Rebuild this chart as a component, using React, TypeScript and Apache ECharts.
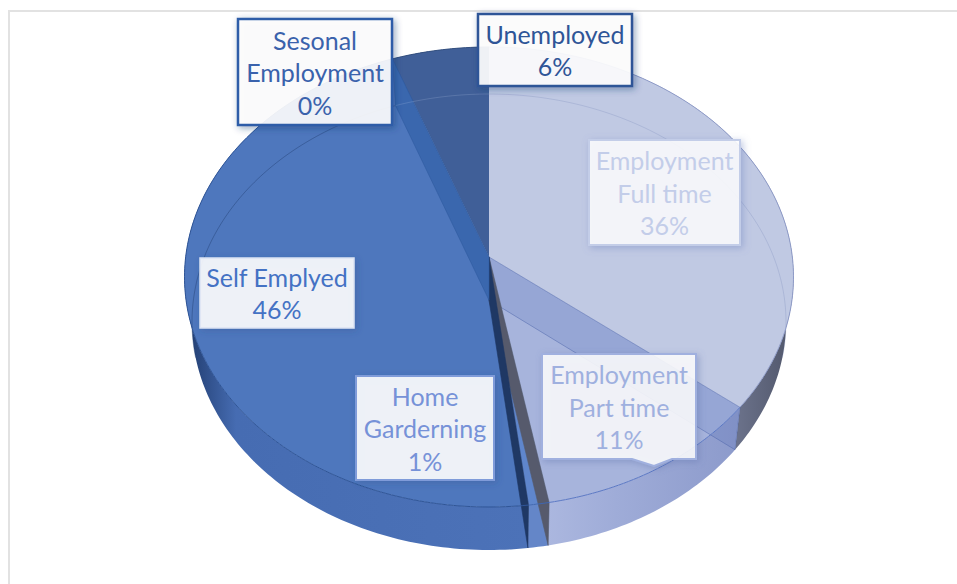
import React, { useEffect, useRef } from "react";
import * as echarts from "echarts";

// ---- data, clockwise from 12 o'clock ----
const categories = ["Employment\nFull time", "Employment\nPart time", "Home\nGarderning", "Self Emplyed", "Sesonal\nEmployment", "Unemployed"];
const shares = [35.7, 11.4, 1.0, 46.1, 0.2, 5.6];

// ---- styling ----
const faceColors = ["#C0C9E3", "#A7B4DC", "#5F86CC", "#4E77BD", "#3F6CB2", "#405F98"];
const rimColors = ["#8E9BC8", "#5B78C4", "#3F66B0", "#2F5597", "#2F5597", "#34507F"];
const floorLine = ["rgba(100,120,175,0.22)", "rgba(100,120,175,0.2)", "rgba(30,60,110,0.3)", "rgba(30,60,110,0.42)", "rgba(30,60,110,0.4)", "rgba(190,205,235,0.2)"];
const outerWall: { stop: number; colors: [string, string, string] }[] = [
  { stop: 0.6, colors: ["#A0A9CC", "#8A92B0", "#50566A"] },
  { stop: 0.35, colors: ["#ABB7DF", "#9FACD8", "#8C9ACB"] },
  { stop: 0.5, colors: ["#6486C8", "#6486C8", "#6486C8"] },
  { stop: 0.15, colors: ["#1F3A6C", "#466CB2", "#4C72B8"] },
  { stop: 0.5, colors: ["#2F5597", "#2F5597", "#2F5597"] },
  { stop: 0.5, colors: ["#2F5597", "#2F5597", "#2F5597"] },
];
const sideWalls: ({ fill: string; stroke: string } | null)[] = [
  { fill: "rgba(72,98,175,0.17)", stroke: "rgba(70,95,165,0.75)" },
  { fill: "#565A6C", stroke: "#565A6C" },
  { fill: "#1F3864", stroke: "#1F3864" },
  null,
  { fill: "#3A67AE", stroke: "#2F5A9F" },
  null,
];
const labelBoxes = [
  { x: 589, y: 140, w: 151, h: 105, fill: "rgba(255,255,255,0.84)", border: "#C3CDE8", text: "#C3CDE9", lw: 2, shadow: "rgba(110,130,190,0.5)" },
  { x: 542, y: 354, w: 154, h: 105, fill: "rgba(255,255,255,0.84)", border: "#A0B0DF", text: "#9FB0DF", lw: 2, shadow: "rgba(90,110,170,0.45)", tail: [632, 654, 672] },
  { x: 356, y: 376, w: 138, h: 104, fill: "rgba(255,255,255,0.89)", border: "#7F9BD9", text: "#7692D8", lw: 2, shadow: "rgba(40,70,130,0.3)" },
  { x: 200, y: 258, w: 154, h: 70, fill: "rgba(255,255,255,0.89)", border: "#DCE4F3", text: "#4472C4", lw: 1.5, shadow: "rgba(40,70,130,0.3)" },
  { x: 238, y: 19, w: 154, h: 106, fill: "rgba(255,255,255,0.89)", border: "#2F5DA8", text: "#3A62AC", lw: 2.5, shadow: "rgba(30,60,110,0.45)" },
  { x: 478, y: 14, w: 154, h: 72, fill: "rgba(255,255,255,0.9)", border: "#2F5597", text: "#2F5597", lw: 2.5, shadow: "rgba(30,60,110,0.45)" },
];

const topFace = { cx: 489, cy: 277, rx: 304.5, ry: 230, k: -0.087 };
const floorFace = { cx: 489, cy: 322, rx: 297, ry: 228, k: -0.096 };
type Face = typeof topFace;

const total = shares.reduce((a, b) => a + b, 0);
const startAt = (i: number) => shares.slice(0, i).reduce((a, b) => a + b, 0) / total;

function project(f: Face, fraction: number): number[] {
  const t = fraction * 2 * Math.PI;
  const u = Math.sin(t);
  const v = -Math.cos(t);
  const d = 1 + f.k * v;
  return [f.cx + (f.rx * u * Math.sqrt(1 - f.k * f.k)) / d, f.cy + (f.ry * (v + f.k)) / d];
}
function centre(f: Face): number[] {
  return [f.cx, f.cy + f.ry * f.k];
}
function arc(f: Face, a: number, b: number): number[][] {
  const n = Math.max(1, Math.ceil((b - a) * 360));
  const pts: number[][] = [];
  for (let j = 0; j <= n; j++) pts.push(project(f, a + ((b - a) * j) / n));
  return pts;
}
const seriesData = categories.map((name, i) => ({ name, value: [i, shares[i]] }));

const outerWallsItem = (_: any, api: any) => {
  const i = api.value(0);
  const a = startAt(i);
  const b = startAt(i + 1);
  const c = outerWall[i];
  return {
    type: "polygon",
    shape: { points: [...arc(topFace, a, b), ...arc(floorFace, a, b).reverse()] },
    style: {
      fill: new echarts.graphic.LinearGradient(0, 0, 1, 0, [
        { offset: 0, color: c.colors[0] },
        { offset: c.stop, color: c.colors[1] },
        { offset: 1, color: c.colors[2] },
      ]),
    },
  };
};
const facesItem = (_: any, api: any) => {
  const i = api.value(0);
  const a = startAt(i);
  const b = startAt(i + 1);
  return {
    type: "polygon",
    shape: { points: [centre(topFace), ...arc(topFace, a, b)] },
    style: { fill: faceColors[i] },
  };
};
const linesItem = (_: any, api: any) => {
  const i = api.value(0);
  const a = startAt(i);
  const b = startAt(i + 1);
  const children: any[] = [];
  // far edge of the floor, seen through the top
  const near = 0.29;
  const ranges: number[][] = [];
  if (a < near) ranges.push([a, Math.min(b, near)]);
  if (b > 1 - near) ranges.push([Math.max(a, 1 - near), b]);
  ranges.forEach((r) => {
    if (r[1] > r[0]) children.push({ type: "polyline", shape: { points: arc(floorFace, r[0], r[1]) }, style: { fill: "none", stroke: floorLine[i], lineWidth: 1 } });
  });
  const w = sideWalls[i];
  if (w) {
    const tOuter = project(topFace, b);
    const fOuter = project(floorFace, b);
    children.push({
      type: "polygon",
      shape: { points: [centre(topFace), tOuter, fOuter, centre(floorFace)] },
      style: { fill: w.fill, stroke: w.stroke, lineWidth: 0.6 },
    });
  }
  children.push({ type: "polyline", shape: { points: arc(topFace, a, b) }, style: { fill: "none", stroke: rimColors[i], lineWidth: 1 } });
  return { type: "group", children };
};
const labelsItem = (_: any, api: any) => {
  const i = api.value(0);
  const box = labelBoxes[i] as any;
  const pct = Math.round((api.value(1) / total) * 100);
  const { x, y, w, h } = box;
  const outline = box.tail
    ? [[x, y], [x + w, y], [x + w, y + h], [box.tail[2], y + h], [box.tail[1], y + h + 7], [box.tail[0], y + h], [x, y + h]]
    : [[x, y], [x + w, y], [x + w, y + h], [x, y + h]];
  return {
    type: "group",
    children: [
      {
        type: "polygon",
        shape: { points: outline },
        style: { fill: box.fill, stroke: box.border, lineWidth: box.lw, shadowBlur: 7, shadowOffsetX: 2, shadowOffsetY: 2, shadowColor: box.shadow },
      },
      {
        type: "text",
        x: x + w / 2,
        y: y + h / 2,
        style: {
          text: categories[i] + "\n" + pct + "%",
          align: "center",
          verticalAlign: "middle",
          fontFamily: "Lato, 'Open Sans', sans-serif",
          fontSize: 25,
          lineHeight: 32.5,
          fill: box.text,
        },
      },
    ],
  };
};

export default function App() {
  const ref = useRef<HTMLDivElement>(null);
  useEffect(() => {
    document.body.style.margin = "0";
    const chart = echarts.init(ref.current!, null, { renderer: "svg" });
    const base = { type: "custom", coordinateSystem: "none", silent: true, data: seriesData, animation: false, clip: false };
    chart.setOption({
      animation: false,
      backgroundColor: "#FFFFFF",
      graphic: [
        { type: "line", shape: { x1: 9, y1: 11, x2: 957, y2: 11 }, style: { stroke: "#E2E2E2", lineWidth: 2 } },
        { type: "line", shape: { x1: 9, y1: 10, x2: 9, y2: 584 }, style: { stroke: "#E2E2E2", lineWidth: 2 } },
      ],
      series: [
        { ...base, name: "walls", z: 2, renderItem: outerWallsItem },
        { ...base, name: "faces", z: 3, renderItem: facesItem },
        { ...base, name: "lines", z: 4, renderItem: linesItem },
        { ...base, name: "labels", z: 5, renderItem: labelsItem },
      ],
    });
    return () => chart.dispose();
  }, []);
  return <div ref={ref} style={{ width: 957, height: 584 }} />;
}
